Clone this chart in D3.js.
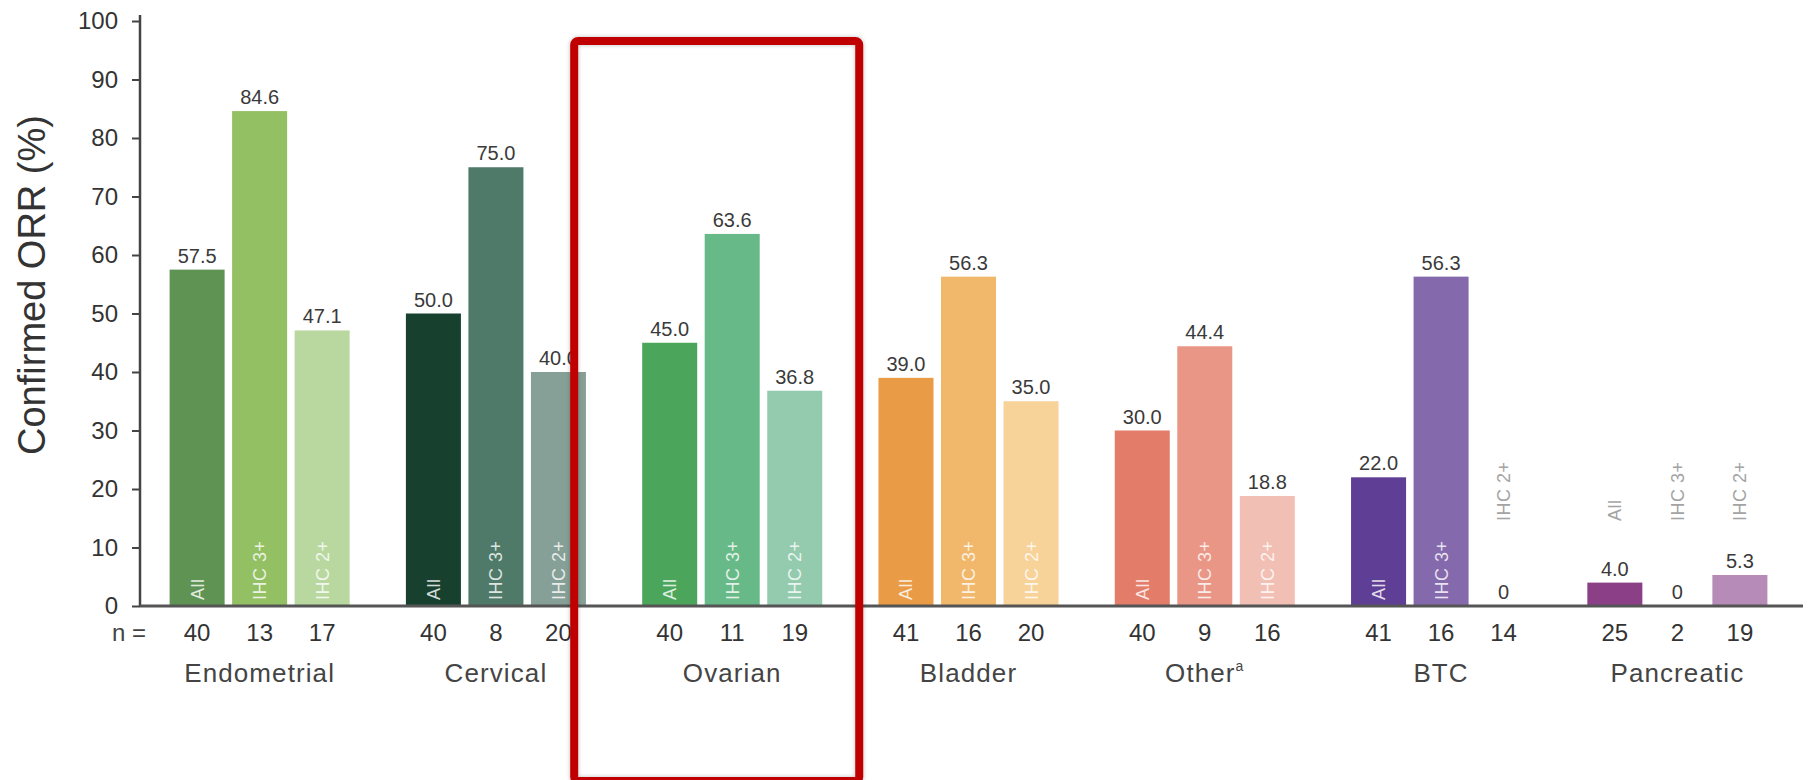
<!DOCTYPE html>
<html>
<head>
<meta charset="utf-8">
<script src="https://cdn.jsdelivr.net/npm/d3@7"></script>
<style>
  html, body { margin: 0; padding: 0; background: #fff; }
  svg { display: block; font-family: "Liberation Sans", Arial, Helvetica, sans-serif; }
</style>
</head>
<body>
<svg id="chart" width="1810" height="780"></svg>
<script>
// Confirmed ORR (%) by tumour type and HER2 IHC subgroup
const tumourTypes = ["Endometrial", "Cervical", "Ovarian", "Bladder", "Other", "BTC", "Pancreatic"];
const subgroups = ["All", "IHC 3+", "IHC 2+"];

const orrAll  = [57.5, 50.0, 45.0, 39.0, 30.0, 22.0, 4.0];
const orrIhc3 = [84.6, 75.0, 63.6, 56.3, 44.4, 56.3, 0];
const orrIhc2 = [47.1, 40.0, 36.8, 35.0, 18.8, 0, 5.3];

const nAll  = [40, 40, 40, 41, 40, 41, 25];
const nIhc3 = [13, 8, 11, 16, 9, 16, 2];
const nIhc2 = [17, 20, 19, 20, 16, 14, 19];

const yTicks = [0, 10, 20, 30, 40, 50, 60, 70, 80, 90, 100];

// one colour triple per tumour type: All, IHC 3+, IHC 2+
const palette = [
  ["#5f9353", "#94c064", "#b8d8a0"],
  ["#17402f", "#4f7a69", "#86a098"],
  ["#4ba65c", "#68b988", "#94cbae"],
  ["#e99c45", "#f1b86c", "#f7d299"],
  ["#e37d69", "#ea9686", "#f2bfb5"],
  ["#5f3f95", "#8469ac", "#a58fc4"],
  ["#8b3f87", "#a86aa5", "#b68bb7"]
];

const rows = [];
tumourTypes.forEach((t, i) => {
  const vals = [orrAll[i], orrIhc3[i], orrIhc2[i]];
  const ns = [nAll[i], nIhc3[i], nIhc2[i]];
  subgroups.forEach((s, j) => {
    rows.push({ type: t, sub: s, value: vals[j], n: ns[j], color: palette[i][j] });
  });
});

const svg = d3.select("#chart");
const axisX = 140;
const baseY = 606;

const x0 = d3.scaleBand().domain(tumourTypes).range([137, 1800])
  .paddingInner(0.238).paddingOuter(0.138);
const x1 = d3.scaleBand().domain(subgroups).range([0, x0.bandwidth()])
  .paddingInner(0.12).paddingOuter(0);
const y = d3.scaleLinear().domain([0, 100]).range([baseY, 21]);

const fmt = v => v === 0 ? "0" : v.toFixed(1);

// highlight frame drop shadow
const defs = svg.append("defs");
const f = defs.append("filter").attr("id", "shade")
  .attr("x", "-5%").attr("y", "-5%").attr("width", "110%").attr("height", "110%");
f.append("feDropShadow").attr("dx", 0).attr("dy", 0).attr("stdDeviation", 2)
  .attr("flood-color", "#000").attr("flood-opacity", 0.25);

// bars
const bars = svg.append("g");
bars.selectAll("rect").data(rows).join("rect")
  .attr("x", d => x0(d.type) + x1(d.sub))
  .attr("y", d => y(d.value))
  .attr("width", x1.bandwidth())
  .attr("height", d => baseY - y(d.value))
  .attr("fill", d => d.color);

// value labels above bars
svg.append("g").selectAll("text").data(rows).join("text")
  .attr("x", d => x0(d.type) + x1(d.sub) + x1.bandwidth() / 2)
  .attr("y", d => y(d.value) - 7)
  .attr("text-anchor", "middle")
  .attr("font-size", 20)
  .attr("fill", "#3a3a3a")
  .text(d => fmt(d.value));

// subgroup labels: white inside tall bars, grey above short ones
const subLabelY = 521;
svg.append("g").selectAll("text").data(rows).join("text")
  .attr("transform", d => {
    const cx = x0(d.type) + x1(d.sub) + x1.bandwidth() / 2;
    const yy = d.value >= 10 ? baseY - 6 : subLabelY;
    return `translate(${cx},${yy}) rotate(-90)`;
  })
  .attr("dy", "0.36em")
  .attr("text-anchor", "start")
  .attr("font-size", 18)
  .attr("letter-spacing", 0.5)
  .attr("fill", d => d.value >= 10 ? "rgba(255,255,255,0.82)" : "#a3a3a3")
  .text(d => d.sub);

// y axis
const yAxis = svg.append("g")
  .attr("transform", `translate(${axisX},0)`)
  .call(d3.axisLeft(y).tickValues(yTicks).tickSize(8).tickSizeOuter(0).tickPadding(14));
yAxis.select(".domain").remove();
yAxis.selectAll(".tick line").attr("stroke", "#444").attr("stroke-width", 2);
yAxis.selectAll(".tick text").attr("font-size", 24).attr("fill", "#333")
  .attr("font-family", "'Liberation Sans', Arial, sans-serif");
svg.append("line")
  .attr("x1", axisX).attr("x2", axisX)
  .attr("y1", y(100) - 6).attr("y2", baseY + 1)
  .attr("stroke", "#444").attr("stroke-width", 2.5);

// baseline
svg.append("line")
  .attr("x1", axisX).attr("x2", 1803)
  .attr("y1", baseY).attr("y2", baseY)
  .attr("stroke", "#555").attr("stroke-width", 3);

// y axis title
svg.append("text")
  .attr("transform", `translate(45,285) rotate(-90)`)
  .attr("text-anchor", "middle")
  .attr("font-size", 38)
  .attr("fill", "#333")
  .text("Confirmed ORR (%)");

// n row
svg.append("text")
  .attr("x", 112).attr("y", 641)
  .attr("font-size", 24).attr("fill", "#444")
  .text("n =");
svg.append("g").selectAll("text").data(rows).join("text")
  .attr("x", d => x0(d.type) + x1(d.sub) + x1.bandwidth() / 2)
  .attr("y", 641)
  .attr("text-anchor", "middle")
  .attr("font-size", 24)
  .attr("fill", "#333")
  .text(d => d.n);

// tumour type labels
const cat = svg.append("g").selectAll("text").data(tumourTypes).join("text")
  .attr("x", d => x0(d) + x0.bandwidth() / 2)
  .attr("y", 682)
  .attr("text-anchor", "middle")
  .attr("font-size", 26)
  .attr("letter-spacing", 1.1)
  .attr("fill", "#444");
cat.append("tspan").text(d => d);
cat.filter(d => d === "Other").append("tspan")
  .attr("dy", -11).attr("font-size", 14).text("a");

// highlight frame around the ovarian group
const ov = x0("Ovarian");
svg.append("rect")
  .attr("x", ov - 68).attr("y", 41)
  .attr("width", x0.bandwidth() + 105).attr("height", 740)
  .attr("rx", 4)
  .attr("fill", "none")
  .attr("stroke", "#c00000")
  .attr("stroke-width", 8)
  .attr("filter", "url(#shade)");
</script>
</body>
</html>
